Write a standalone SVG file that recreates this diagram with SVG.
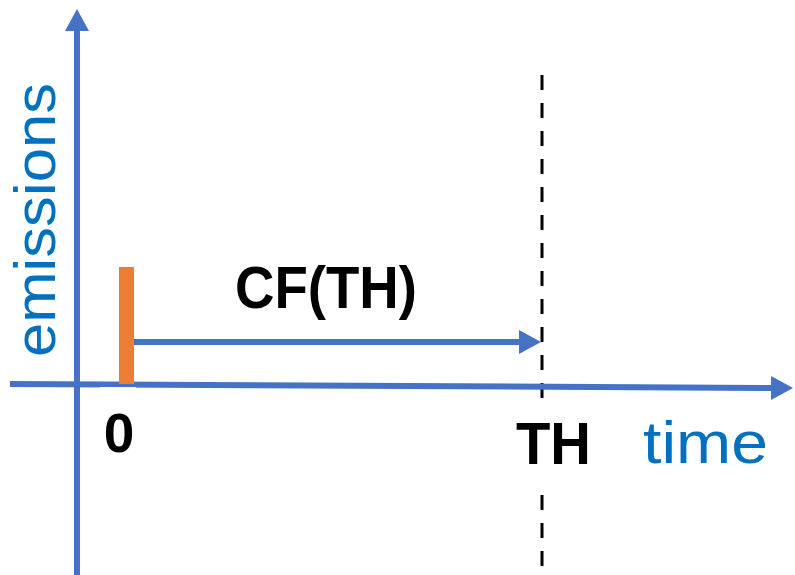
<svg xmlns="http://www.w3.org/2000/svg" width="795" height="575" viewBox="0 0 795 575">
  <style>
    .axis { stroke: #4472C4; stroke-width: 6; fill: none; }
    .label-bold { font-family: "Liberation Sans", Arial, sans-serif; font-weight: bold; fill: #000000; }
    .label-axis { font-family: "Liberation Sans", Arial, sans-serif; fill: #0070C0; }
  </style>
  <defs>
    <marker id="arrow" markerUnits="userSpaceOnUse" markerWidth="22" markerHeight="24" viewBox="0 0 22 24" refX="1" refY="12" orient="auto">
      <path d="M0,0 L22,12 L0,24 z" fill="#4472C4"/>
    </marker>
  </defs>
  <rect width="795" height="575" fill="#ffffff"/>

  <!-- time horizon marker -->
  <g id="horizon-line">
    <line x1="542" y1="75" x2="542" y2="575" stroke="#000000" stroke-width="3" stroke-dasharray="15 13"/>
  </g>

  <g id="connectors">
    <!-- emissions axis -->
    <line class="axis" x1="77" y1="575" x2="77" y2="30" marker-end="url(#arrow)"/>
    <!-- time axis -->
    <line class="axis" x1="10" y1="384" x2="772" y2="388" marker-end="url(#arrow)"/>
    <!-- CF(TH) span -->
    <line class="axis" x1="134" y1="342" x2="520" y2="342" stroke-width="7" marker-end="url(#arrow)"/>
  </g>

  <g id="pulse">
    <rect x="119" y="267" width="15" height="117" fill="#ED7D31"/>
  </g>

  <g id="label-zero">
    <rect x="100" y="387" width="36" height="70" fill="#ffffff"/>
    <text class="label-bold" x="119" y="452" font-size="55" text-anchor="middle">0</text>
  </g>

  <g id="label-th">
    <rect x="510" y="398" width="86" height="85" fill="#ffffff"/>
    <text class="label-bold" x="516" y="464" font-size="60" textLength="75" lengthAdjust="spacingAndGlyphs">TH</text>
  </g>

  <g id="label-cf">
    <text class="label-bold" x="235" y="308" font-size="60" textLength="182" lengthAdjust="spacingAndGlyphs">CF(TH)</text>
  </g>

  <g id="label-time">
    <text class="label-axis" x="643" y="463" font-size="60" textLength="125" lengthAdjust="spacingAndGlyphs">time</text>
  </g>

  <g id="label-emissions">
    <text class="label-axis" transform="translate(55,357) rotate(-90)" x="0" y="0" font-size="58" textLength="274" lengthAdjust="spacingAndGlyphs">emissions</text>
  </g>
</svg>
